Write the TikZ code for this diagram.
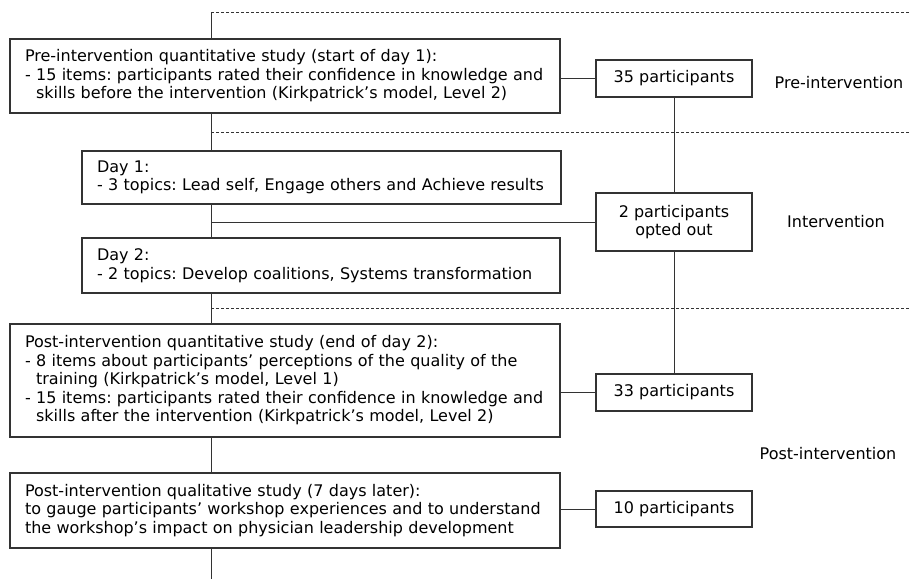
\documentclass[tikz,border=0pt]{standalone}
\usepackage{fontspec}
\setmainfont{DejaVu Sans}
\usetikzlibrary{positioning}
\usetikzlibrary{backgrounds}
\frenchspacing
\newcommand{\contline}{\phantom{- }}
\tikzstyle{flow_style}=[
	x=1pt, y=-1pt, line width=0.9pt, draw=black!80,
	study/.style={rectangle,fill=white,draw=black!80,line width=1.1pt,align=left,inner xsep=15pt,inner ysep=0pt,font=\fontsize{16}{18.5}\selectfont},
	count/.style={rectangle,fill=white,draw=black!80,line width=1.1pt,align=center,minimum width=156pt,inner ysep=0pt,font=\fontsize{16}{18.5}\selectfont},
	label/.style={rectangle,draw=none,font=\fontsize{16}{18.5}\selectfont},
	thin_edge/.style={draw=black!80,line width=0.9pt},
	phase_edge/.style={draw=black!80,line width=0.9pt,dash pattern=on 3pt off 2pt}
]

\begin{document}
\begin{tikzpicture}[flow_style]
		
		\useasboundingbox (0,0) rectangle (909,579);
		
		\node[study, text width=520pt, minimum height=74pt]  (pre)   at (285,76)    {Pre-intervention quantitative study (start of day 1):\\- 15 items: participants rated their confidence in knowledge and\\\contline skills before the intervention (Kirkpatrick’s model, Level 2)};
		\node[count, minimum height=37pt]    (n35)   at (674,78.5)  {35 participants};
		\node[label]                         (lpre)  at (839,83)    {Pre-intervention};
		
		\node[study, text width=449pt, minimum height=53pt]  (day1)  at (321.5,177.5) {Day 1:\\- 3 topics: Lead self, Engage others and Achieve results};
		\node[count, minimum height=58pt]    (n2)    at (674,222)   {2 participants\\opted out};
		\node[label]                         (lint)  at (836,222)   {Intervention};
		\node[study, text width=448pt, minimum height=55pt]  (day2)  at (321,265.5) {Day 2:\\- 2 topics: Develop coalitions, Systems transformation};
		
		\node[study, text width=520pt, minimum height=113pt] (postq) at (285,380.5) {Post-intervention quantitative study (end of day 2):\\- 8 items about participants’ perceptions of the quality of the\\\contline training (Kirkpatrick’s model, Level 1)\\- 15 items: participants rated their confidence in knowledge and\\\contline skills after the intervention (Kirkpatrick’s model, Level 2)};
		\node[count, minimum height=37pt]    (n33)   at (674,392.5) {33 participants};
		\node[label]                         (lpost) at (828,454)   {Post-intervention};
		
		\node[study, text width=520pt, minimum height=75pt]  (postl) at (285,510.5) {Post-intervention qualitative study (7 days later):\\to gauge participants’ workshop experiences and to understand\\the workshop’s impact on physician leadership development};
		\node[count, minimum height=36pt]    (n10)   at (674,509)   {10 participants};
		
		% trunk and phase borders
		\coordinate (top)    at (211,12);
		\coordinate (bottom) at (211,579);
		\coordinate (ph2)    at (211,132);
		\coordinate (ph3)    at (211,308);
		\coordinate (top_r)  at (909,12);
		\coordinate (ph2_r)  at (909,132);
		\coordinate (ph3_r)  at (909,308);
		
		\begin{scope}[on background layer]
		\path (top) edge [thin_edge] (bottom)
		(n35) edge [thin_edge] (n33);
		\end{scope}
		
		\path (top) edge [phase_edge] (top_r)
		(ph2) edge [phase_edge] (ph2_r)
		(ph3) edge [phase_edge] (ph3_r);
		
		\path (pre.east |- n35) edge [thin_edge] (n35)
		(n2.west -| top) edge [thin_edge] (n2)
		(postq.east |- n33) edge [thin_edge] (n33)
		(postl.east |- n10) edge [thin_edge] (n10);
		
\end{tikzpicture}
\end{document}
